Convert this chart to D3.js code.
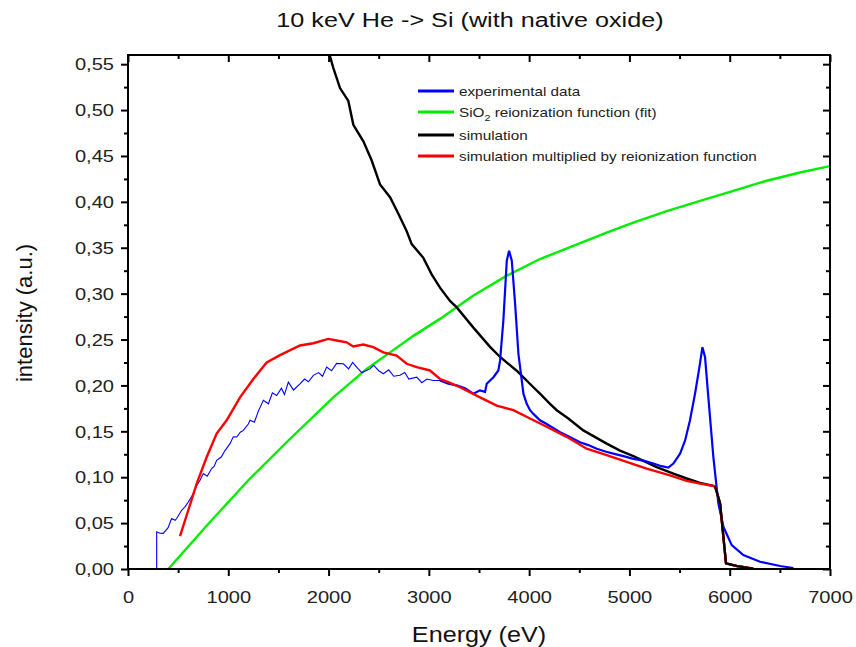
<!DOCTYPE html>
<html>
<head>
<meta charset="utf-8">
<script src="https://cdn.jsdelivr.net/npm/d3@7"></script>
<style>
  body { margin: 0; background: #fff; }
  text { font-family: "Liberation Sans", Arial, sans-serif; }
</style>
</head>
<body>
<svg id="chart"></svg>
<script>
// energy (eV) / intensity pairs
const expEnergy = [286, 286, 320, 352, 400, 435, 470, 485, 535, 570, 601, 640, 685, 720, 751, 790, 834, 860, 884, 930, 967, 1017, 1050, 1084, 1120, 1150, 1200, 1217, 1260, 1300, 1350, 1400, 1440, 1483, 1530, 1560, 1599, 1650, 1715, 1760, 1800, 1848, 1900, 1940, 1981, 2030, 2080, 2147, 2200, 2240, 2280, 2330, 2413, 2450, 2500, 2546, 2600, 2650, 2712, 2760, 2800, 2879, 2930, 2980, 3045, 3111, 3194, 3278, 3360, 3444, 3510, 3560, 3577, 3644, 3693, 3710, 3743, 3777, 3800, 3827, 3860, 3893, 3943, 3976, 4009, 4042, 4108, 4175, 4308, 4400, 4507, 4590, 4674, 4760, 4840, 4940, 5039, 5140, 5238, 5320, 5388, 5438, 5505, 5555, 5604, 5654, 5698, 5728, 5754, 5787, 5837, 5887, 5937, 6020, 6136, 6302, 6502, 6635];
const expValue  = [0, 0.0406, 0.039, 0.0388, 0.045, 0.055, 0.053, 0.055, 0.064, 0.068, 0.073, 0.080, 0.091, 0.097, 0.104, 0.101, 0.1094, 0.112, 0.1185, 0.122, 0.129, 0.1366, 0.144, 0.1438, 0.149, 0.151, 0.158, 0.162, 0.160, 0.172, 0.1837, 0.180, 0.192, 0.189, 0.197, 0.190, 0.2036, 0.195, 0.2018, 0.207, 0.204, 0.211, 0.214, 0.210, 0.220, 0.216, 0.224, 0.2236, 0.218, 0.225, 0.220, 0.214, 0.218, 0.222, 0.216, 0.2127, 0.217, 0.210, 0.211, 0.214, 0.207, 0.209, 0.203, 0.207, 0.2054, 0.2054, 0.2018, 0.200, 0.197, 0.191, 0.1946, 0.193, 0.2018, 0.209, 0.2163, 0.227, 0.2707, 0.3359, 0.3467, 0.336, 0.289, 0.2345, 0.191, 0.18, 0.173, 0.169, 0.162, 0.158, 0.149, 0.144, 0.138, 0.135, 0.131, 0.128, 0.1257, 0.123, 0.120, 0.118, 0.1149, 0.112, 0.1105, 0.1149, 0.1257, 0.140, 0.162, 0.191, 0.22, 0.2417, 0.2308, 0.187, 0.122, 0.0714, 0.046, 0.026, 0.0152, 0.0079, 0.0033, 0.0011];

const fitEnergy = [402, 800, 1200, 1599, 2047, 2380, 2613, 2846, 3111, 3444, 3777, 4108, 4441, 4773, 5039, 5372, 5704, 6036, 6369, 6701, 7000];
const fitValue  = [0, 0.049, 0.0967, 0.140, 0.187, 0.218, 0.236, 0.254, 0.2725, 0.298, 0.3196, 0.3377, 0.352, 0.3666, 0.3775, 0.390, 0.401, 0.412, 0.423, 0.432, 0.439];

const simEnergy = [2014, 2047, 2114, 2197, 2247, 2347, 2430, 2513, 2613, 2696, 2779, 2829, 2945, 3028, 3111, 3211, 3278, 3444, 3610, 3710, 3876, 4042, 4108, 4208, 4275, 4391, 4540, 4773, 4906, 5039, 5272, 5438, 5571, 5704, 5854, 5904, 5963, 6070, 6236];
const simValue  = [0.5587, 0.546, 0.524, 0.510, 0.484, 0.466, 0.445, 0.419, 0.405, 0.387, 0.368, 0.354, 0.339, 0.321, 0.3065, 0.292, 0.285, 0.263, 0.242, 0.231, 0.216, 0.198, 0.191, 0.180, 0.173, 0.164, 0.151, 0.1366, 0.129, 0.123, 0.111, 0.104, 0.0986, 0.0938, 0.0902, 0.0714, 0.0062, 0.0033, 0.0003];

const multEnergy = [519, 601, 685, 785, 884, 984, 1117, 1250, 1383, 1516, 1715, 1848, 1997, 2081, 2180, 2247, 2347, 2446, 2546, 2679, 2779, 2879, 3011, 3111, 3194, 3311, 3510, 3677, 3843, 4009, 4175, 4374, 4574, 4773, 4972, 5172, 5405, 5571, 5704, 5854, 5904, 5963, 6070, 6236];
const multValue  = [0.0359, 0.064, 0.093, 0.122, 0.1475, 0.162, 0.187, 0.207, 0.225, 0.233, 0.2435, 0.246, 0.2507, 0.249, 0.247, 0.2424, 0.2446, 0.2417, 0.236, 0.2326, 0.2236, 0.22, 0.2163, 0.207, 0.2036, 0.198, 0.187, 0.178, 0.173, 0.164, 0.155, 0.144, 0.131, 0.124, 0.1166, 0.1094, 0.102, 0.096, 0.093, 0.090, 0.0714, 0.0062, 0.0033, 0.0003];

const xTicks = [0, 1000, 2000, 3000, 4000, 5000, 6000, 7000];
const yTicks = [0, 0.05, 0.10, 0.15, 0.20, 0.25, 0.30, 0.35, 0.40, 0.45, 0.50, 0.55];

const legendItems = [
  { label: 'experimental data', color: '#0000ff' },
  { label: 'SiO|2| reionization function (fit)', color: '#00ee00' },
  { label: 'simulation', color: '#000000' },
  { label: 'simulation multiplied by reionization function', color: '#ff0000' }
];

const svg = d3.select('#chart')
  .attr('width', 856)
  .attr('height', 647);

const margin = { top: 55, right: 26, bottom: 78, left: 128 };
const width = 856;
const height = 647;

const x = d3.scaleLinear().domain([0, 7000]).range([margin.left, width - margin.right]);
const y = d3.scaleLinear().domain([0, 0.56]).range([height - margin.bottom, margin.top]);

const fmt = d => d3.format('.2f')(d).replace('.', ',');
const minorX = d3.range(500, 7000, 1000);
const minorY = d3.range(0.025, 0.56, 0.05);

// the original figure's lettering is wider than the font, stretch it
function widen(sel, k) {
  sel.each(function () {
    const w = this.getComputedTextLength();
    d3.select(this).attr('textLength', w * k).attr('lengthAdjust', 'spacingAndGlyphs');
  });
}

const zip = (a, b) => a.map((e, i) => ({ e, v: b[i] }));
const line = d3.line().x(d => x(d.e)).y(d => y(d.v));

const plot = svg.append('g');
plot.append('clipPath').attr('id', 'clip')
  .append('rect')
  .attr('x', margin.left).attr('y', margin.top)
  .attr('width', x(7000) - x(0)).attr('height', y(0) - y(0.56));

const curves = plot.append('g').attr('clip-path', 'url(#clip)');

curves.append('path')
  .datum(zip(fitEnergy, fitValue))
  .attr('fill', 'none').attr('stroke', '#00ee00').attr('stroke-width', 2.4)
  .attr('d', line);

curves.append('path')
  .datum(zip(simEnergy, simValue))
  .attr('fill', 'none').attr('stroke', '#000').attr('stroke-width', 2.4)
  .attr('d', line);

const expData = zip(expEnergy, expValue);
// thin trace for the noisy low energy part, thicker after it
curves.append('path')
  .datum(expData.filter(d => d.e <= 3111))
  .attr('fill', 'none').attr('stroke', '#0000ff').attr('stroke-width', 1.1)
  .attr('d', line);
curves.append('path')
  .datum(expData.filter(d => d.e >= 3111))
  .attr('fill', 'none').attr('stroke', '#0000ff').attr('stroke-width', 2.2)
  .attr('d', line);

curves.append('path')
  .datum(zip(multEnergy, multValue))
  .attr('fill', 'none').attr('stroke', '#ff0000').attr('stroke-width', 2.4)
  .attr('d', line);

// simulation drawn again over the red tail, as in the original
curves.append('path')
  .datum(zip(simEnergy, simValue).filter(d => d.e >= 5854))
  .attr('fill', 'none').attr('stroke', '#000').attr('stroke-width', 2.2)
  .attr('d', line);

// axes
const axBottom = svg.append('g').attr('transform', `translate(0,${y(0)})`);
axBottom.call(d3.axisBottom(x).tickValues(xTicks).tickSize(7).tickSizeOuter(0).tickFormat(d3.format('d')));
axBottom.append('g').call(d3.axisBottom(x).tickValues(minorX).tickSize(4).tickFormat(''));

const axLeft = svg.append('g').attr('transform', `translate(${x(0)},0)`);
axLeft.call(d3.axisLeft(y).tickValues(yTicks).tickSize(7).tickSizeOuter(0).tickFormat(fmt));
axLeft.append('g').call(d3.axisLeft(y).tickValues(minorY).tickSize(4).tickFormat(''));

const axTop = svg.append('g').attr('transform', `translate(0,${y(0.56)})`);
axTop.call(d3.axisBottom(x).tickValues(xTicks).tickSize(7).tickSizeOuter(0).tickFormat(''));
axTop.append('g').call(d3.axisBottom(x).tickValues(minorX).tickSize(4).tickFormat(''));

const axRight = svg.append('g').attr('transform', `translate(${x(7000)},0)`);
axRight.call(d3.axisLeft(y).tickValues(yTicks).tickSize(7).tickSizeOuter(0).tickFormat(''));
axRight.append('g').call(d3.axisLeft(y).tickValues(minorY).tickSize(4).tickFormat(''));

svg.selectAll('.domain').remove();
svg.selectAll('.tick line').attr('stroke', '#000').attr('stroke-width', 2);
svg.selectAll('.tick text')
  .attr('font-size', 17)
  .attr('fill', '#222')
  .style('font-family', '"Liberation Sans", Arial, sans-serif');
axBottom.selectAll('.tick text').attr('y', 22).attr('dy', '0.71em');
axLeft.selectAll('.tick text').attr('x', -14).attr('dy', '0.34em');
widen(svg.selectAll('.tick text').filter(function () { return this.textContent !== ''; }), 1.18);

svg.append('rect')
  .attr('x', x(0)).attr('y', y(0.56))
  .attr('width', x(7000) - x(0)).attr('height', y(0) - y(0.56))
  .attr('fill', 'none').attr('stroke', '#000').attr('stroke-width', 2);

// titles
svg.append('text')
  .attr('x', 470).attr('y', 27)
  .attr('text-anchor', 'middle')
  .attr('font-size', 20).attr('fill', '#111')
  .text('10 keV He -> Si (with native oxide)')
  .call(widen, 1.26);

svg.append('text')
  .attr('x', 479).attr('y', 642)
  .attr('text-anchor', 'middle')
  .attr('font-size', 21.5).attr('fill', '#111')
  .text('Energy (eV)')
  .call(widen, 1.17);

svg.append('text')
  .attr('transform', 'translate(32,313) rotate(-90)')
  .attr('text-anchor', 'middle')
  .attr('font-size', 22).attr('fill', '#111')
  .text('intensity (a.u.)');

// legend
const legendY = [91, 112, 135, 156];
const legend = svg.append('g');
legendItems.forEach((item, i) => {
  const g = legend.append('g').attr('transform', `translate(418,${legendY[i]})`);
  g.append('line')
    .attr('x1', 0).attr('x2', 36)
    .attr('stroke', item.color).attr('stroke-width', 3);
  const t = g.append('text')
    .attr('x', 41).attr('y', 5)
    .attr('font-size', 13.5).attr('fill', '#222');
  const parts = item.label.split('|');
  if (parts.length > 1) {
    t.append('tspan').text(parts[0]);
    t.append('tspan').attr('font-size', 9.5).attr('dy', 4).text(parts[1]);
    t.append('tspan').attr('dy', -4).text(parts[2]);
  } else {
    t.text(item.label);
  }
  t.call(widen, 1.13);
});
</script>
</body>
</html>
